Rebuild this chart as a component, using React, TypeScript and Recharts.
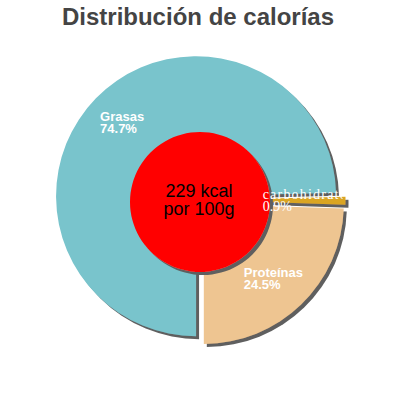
import React from 'react';
import { PieChart, Pie, Cell } from 'recharts';

const title = 'Distribución de calorías';
const categories = ['Grasas', 'carbohidratos', 'Proteínas'];
const values = [74.7, 0.9, 24.5];
const percentLabels = ['74.7%', '0.9%', '24.5%'];
const colors = ['#79c4cc', '#daa520', '#eec591'];
const labelFonts = ['"Liberation Sans", Arial, sans-serif', '"Liberation Serif", "Times New Roman", serif', '"Liberation Sans", Arial, sans-serif'];
const energyValue = [229];
const centerLines = ['229 kcal', 'por 100g'];

const data = categories.map((name, i) => ({ name, value: values[i] }));
const energyData = energyValue.map((v) => ({ name: 'kcal', value: v }));

const CX = 200;
const CY = 200;
const R = 140;
const EXPLODE = 5.5;
const START = -90;
const END = -450;
const RAD = Math.PI / 180;
const total = values.reduce((a, b) => a + b, 0);

const mids: number[] = [];
{
  let cum = 0;
  values.forEach((v) => {
    mids.push(START + ((END - START) * (cum + v / 2)) / total);
    cum += v;
  });
}
const centers = mids.map((m) => ({
  x: CX + EXPLODE * Math.cos(m * RAD),
  y: CY - EXPLODE * Math.sin(m * RAD),
}));

const makeLabel = (slice: number) => (props: any) => {
  if (props.index !== slice) return null;
  const mid = typeof props.midAngle === 'number' ? props.midAngle : mids[slice];
  const c = centers[slice];
  const px = c.x + 104 * Math.cos(-mid * RAD);
  const py = c.y + 104 * Math.sin(-mid * RAD);
  const name = categories[slice];
  const sx = px - name.length * 3.6;
  const serif = slice === 1;
  const clipId = `lblclip${slice}`;
  return (
    <g>
      <defs>
        <clipPath id={clipId}>
          <rect x={sx - 2} y={py - 20} width={82} height={40} />
        </clipPath>
      </defs>
      <text
        clipPath={`url(#${clipId})`}
        fill="#ffffff"
        fontFamily={labelFonts[slice]}
        fontWeight={serif ? 'normal' : 'bold'}
        fontSize={serif ? 14 : 13}
      >
        <tspan x={sx} y={py - 2} letterSpacing={serif ? 1.2 : 0}>{name}</tspan>
        <tspan x={sx} y={py + 10}>{percentLabels[slice]}</tspan>
      </text>
    </g>
  );
};

const centerLabel = () => {
  const cx = CX;
  const cy = 202;
  return (
    <text fill="#000" fontFamily='"Liberation Sans", Arial, sans-serif' fontSize={18} textAnchor="middle">
      <tspan x={cx - 1} y={cy - 5.3}>{centerLines[0]}</tspan>
      <tspan x={cx - 1} y={cy + 13}>{centerLines[1]}</tspan>
    </text>
  );
};

export default function App() {
  return (
    <div style={{ position: 'absolute', left: 0, top: 0, width: 400, height: 400, background: '#fff' }}>
      <svg width={0} height={0} style={{ position: 'absolute' }}>
        <defs>
          <filter id="sh" filterUnits="userSpaceOnUse" x={0} y={0} width={400} height={400}>
            <feDropShadow dx={3} dy={3} stdDeviation={0.6} floodColor="#5f5f5f" floodOpacity={1} />
          </filter>
        </defs>
      </svg>
      <PieChart width={400} height={400} margin={{ top: 0, right: 0, bottom: 0, left: 0 }}>
        {categories.map((_, slice) => (
          <Pie
            key={slice}
            data={data}
            dataKey="value"
            nameKey="name"
            cx={centers[slice].x}
            cy={centers[slice].y}
            innerRadius={0}
            outerRadius={R}
            startAngle={START}
            endAngle={END}
            stroke="none"
            isAnimationActive={false}
            labelLine={false}
            label={makeLabel(slice)}
          >
            {data.map((d, j) => (
              <Cell
                key={d.name}
                fill={j === slice ? colors[j] : 'none'}
                filter={j === slice ? 'url(#sh)' : undefined}
              />
            ))}
          </Pie>
        ))}
        <Pie
          data={energyData}
          dataKey="value"
          nameKey="name"
          cx={CX}
          cy={202}
          innerRadius={0}
          outerRadius={70}
          startAngle={START}
          endAngle={END}
          stroke="none"
          isAnimationActive={false}
          labelLine={false}
          label={centerLabel}
        >
          {energyData.map((d) => (
            <Cell key={d.name} fill="#ff0000" filter="url(#sh)" />
          ))}
        </Pie>
      </PieChart>
      <svg width={400} height={40} style={{ position: 'absolute', left: 0, top: 0, pointerEvents: 'none' }}>
        <text
          x={198}
          y={25}
          textAnchor="middle"
          fill="#444444"
          fontFamily='"Liberation Sans", Arial, sans-serif'
          fontWeight="bold"
          fontSize={24}
        >
          {title}
        </text>
      </svg>
    </div>
  );
}
